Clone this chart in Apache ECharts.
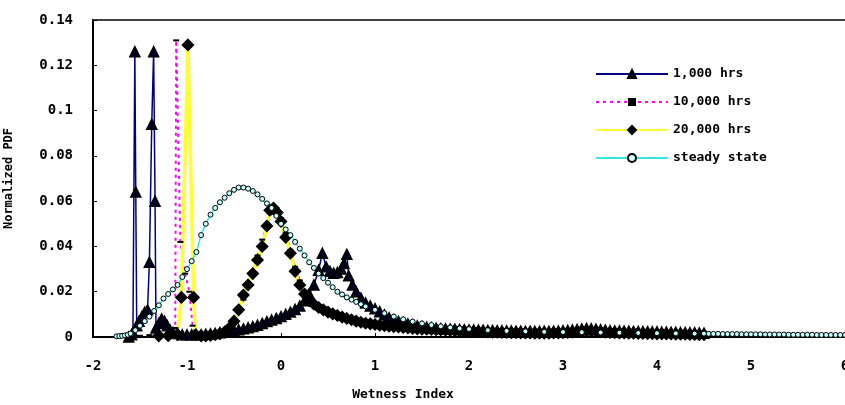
<!DOCTYPE html>
<html>
<head>
<meta charset="UTF-8">
<title>Normalized PDF</title>
<script src="https://cdn.jsdelivr.net/npm/echarts@6.0.0/dist/echarts.min.js"></script>
<style>
  html, body { margin: 0; padding: 0; background: #fff; }
</style>
</head>
<body>
<div id="main" style="width:845px;height:405px"></div>
<script>
// series names as in the legend
var seriesNames = ['1,000 hrs', '10,000 hrs', '20,000 hrs', 'steady state'];

// [wetness index, normalized pdf]
var hrs1000 = [
  [-1.62, 0.0000], [-1.59, 0.0010], [-1.575, 0.0020], [-1.555, 0.1260], [-1.545, 0.0640], [-1.535, 0.0050],
  [-1.51, 0.0070], [-1.48, 0.0090], [-1.45, 0.0110], [-1.42, 0.0120], [-1.40, 0.0330], [-1.375, 0.0940],
  [-1.355, 0.1260], [-1.34, 0.0600], [-1.33, 0.0040], [-1.30, 0.0060], [-1.27, 0.0080], [-1.24, 0.0070],
  [-1.21, 0.0050], [-1.18, 0.0030], [-1.15, 0.0020], [-1.10, 0.0015], [-1.05, 0.0010], [-1.00, 0.0010],
  [-0.95, 0.0010], [-0.90, 0.0010], [-0.85, 0.0010], [-0.80, 0.0012], [-0.75, 0.0014], [-0.70, 0.0016],
  [-0.65, 0.0019], [-0.60, 0.0022], [-0.55, 0.0025], [-0.50, 0.0028], [-0.45, 0.0032], [-0.40, 0.0036],
  [-0.35, 0.0041], [-0.30, 0.0046], [-0.25, 0.0052], [-0.20, 0.0060], [-0.15, 0.0068], [-0.10, 0.0075],
  [-0.05, 0.0082], [0.00, 0.0090], [0.05, 0.0100], [0.10, 0.0110], [0.15, 0.0122], [0.20, 0.0137],
  [0.25, 0.0160], [0.30, 0.0190], [0.35, 0.0230], [0.40, 0.0295], [0.44, 0.0370], [0.48, 0.0310],
  [0.52, 0.0290], [0.56, 0.0282], [0.60, 0.0285], [0.64, 0.0300], [0.67, 0.0325], [0.70, 0.0365],
  [0.72, 0.0270], [0.76, 0.0230], [0.80, 0.0200], [0.85, 0.0172], [0.90, 0.0150], [0.95, 0.0137],
  [1.00, 0.0125], [1.05, 0.0112], [1.10, 0.0098], [1.15, 0.0085], [1.20, 0.0076], [1.25, 0.0069],
  [1.30, 0.0063], [1.35, 0.0058], [1.40, 0.0053], [1.45, 0.0049], [1.50, 0.0046], [1.55, 0.0043],
  [1.60, 0.0041], [1.65, 0.0039], [1.70, 0.0037], [1.75, 0.0036], [1.80, 0.0035], [1.85, 0.0034],
  [1.90, 0.0033], [1.95, 0.0032], [2.00, 0.0031], [2.05, 0.0031], [2.10, 0.0030], [2.15, 0.0030],
  [2.20, 0.0029], [2.25, 0.0029], [2.30, 0.0028], [2.35, 0.0028], [2.40, 0.0027], [2.45, 0.0027],
  [2.50, 0.0026], [2.55, 0.0026], [2.60, 0.0025], [2.65, 0.0026], [2.70, 0.0025], [2.75, 0.0025],
  [2.80, 0.0026], [2.85, 0.0025], [2.90, 0.0026], [2.95, 0.0027], [3.00, 0.0028], [3.05, 0.0029],
  [3.10, 0.0031], [3.15, 0.0033], [3.20, 0.0036], [3.25, 0.0038], [3.30, 0.0037], [3.35, 0.0035],
  [3.40, 0.0032], [3.45, 0.0030], [3.50, 0.0028], [3.55, 0.0027], [3.60, 0.0027], [3.65, 0.0026],
  [3.70, 0.0026], [3.75, 0.0025], [3.80, 0.0025], [3.85, 0.0024], [3.90, 0.0024], [3.95, 0.0023],
  [4.00, 0.0023], [4.05, 0.0022], [4.10, 0.0022], [4.15, 0.0021], [4.20, 0.0021], [4.25, 0.0020],
  [4.30, 0.0020], [4.35, 0.0019], [4.40, 0.0019], [4.45, 0.0018], [4.50, 0.0017]
];

var hrs10000 = [
  [-1.50, 0.0005], [-1.40, 0.0008], [-1.30, 0.0010], [-1.20, 0.0012], [-1.14, 0.0020], [-1.125, 0.0040],
  [-1.115, 0.1310], [-1.07, 0.0420], [-1.02, 0.0280], [-0.975, 0.0200], [-0.94, 0.0050], [-0.90, 0.0010],
  [-0.80, 0.0006], [-0.70, 0.0012], [-0.60, 0.0028], [-0.55, 0.0045], [-0.50, 0.0075], [-0.45, 0.0115],
  [-0.40, 0.0165], [-0.35, 0.0225], [-0.30, 0.0290], [-0.25, 0.0360], [-0.20, 0.0430], [-0.15, 0.0495],
  [-0.10, 0.0545], [-0.05, 0.0560], [0.00, 0.0525], [0.05, 0.0460], [0.10, 0.0385], [0.15, 0.0310],
  [0.20, 0.0250], [0.25, 0.0205], [0.30, 0.0172], [0.40, 0.0140], [0.50, 0.0118], [0.60, 0.0100],
  [0.70, 0.0087], [0.80, 0.0076], [0.90, 0.0067], [1.00, 0.0060], [1.20, 0.0050], [1.40, 0.0042],
  [1.60, 0.0036], [1.80, 0.0031], [2.00, 0.0027], [2.50, 0.0021], [3.00, 0.0019], [3.30, 0.0024],
  [3.60, 0.0018], [4.00, 0.0015], [4.50, 0.0011]
];

var hrs20000 = [
  [-1.30, 0.0005], [-1.20, 0.0006], [-1.10, 0.0010], [-1.06, 0.0175], [-0.99, 0.1290], [-0.93, 0.0175],
  [-0.91, 0.0010], [-0.85, 0.0005], [-0.80, 0.0005], [-0.75, 0.0007], [-0.70, 0.0010], [-0.65, 0.0015],
  [-0.60, 0.0022], [-0.55, 0.0040], [-0.50, 0.0070], [-0.45, 0.0120], [-0.40, 0.0185], [-0.35, 0.0230],
  [-0.30, 0.0280], [-0.25, 0.0340], [-0.20, 0.0400], [-0.15, 0.0490], [-0.12, 0.0560], [-0.08, 0.0570],
  [-0.04, 0.0550], [0.00, 0.0510], [0.05, 0.0440], [0.10, 0.0370], [0.15, 0.0290], [0.20, 0.0230],
  [0.25, 0.0190], [0.30, 0.0160], [0.35, 0.0145], [0.40, 0.0130], [0.45, 0.0120], [0.50, 0.0110],
  [0.55, 0.0102], [0.60, 0.0095], [0.65, 0.0088], [0.70, 0.0082], [0.75, 0.0076], [0.80, 0.0070],
  [0.85, 0.0065], [0.90, 0.0061], [0.95, 0.0058], [1.00, 0.0055], [1.05, 0.0052], [1.10, 0.0050],
  [1.15, 0.0048], [1.20, 0.0046], [1.25, 0.0044], [1.30, 0.0042], [1.35, 0.0040], [1.40, 0.0038],
  [1.45, 0.0036], [1.50, 0.0035], [1.55, 0.0034], [1.60, 0.0033], [1.65, 0.0032], [1.70, 0.0031],
  [1.75, 0.0030], [1.80, 0.0029], [1.85, 0.0028], [1.90, 0.0027], [1.95, 0.0026], [2.00, 0.0025],
  [2.05, 0.0024], [2.10, 0.0023], [2.15, 0.0023], [2.20, 0.0022], [2.25, 0.0021], [2.30, 0.0021],
  [2.35, 0.0020], [2.40, 0.0020], [2.45, 0.0019], [2.50, 0.0019], [2.55, 0.0018], [2.60, 0.0018],
  [2.65, 0.0018], [2.70, 0.0017], [2.75, 0.0017], [2.80, 0.0017], [2.85, 0.0017], [2.90, 0.0018],
  [2.95, 0.0018], [3.00, 0.0019], [3.05, 0.0020], [3.10, 0.0021], [3.15, 0.0023], [3.20, 0.0025],
  [3.25, 0.0026], [3.30, 0.0026], [3.35, 0.0025], [3.40, 0.0023], [3.45, 0.0021], [3.50, 0.0020],
  [3.55, 0.0019], [3.60, 0.0018], [3.65, 0.0018], [3.70, 0.0017], [3.75, 0.0017], [3.80, 0.0016],
  [3.85, 0.0016], [3.90, 0.0015], [3.95, 0.0015], [4.00, 0.0014], [4.05, 0.0014], [4.10, 0.0013],
  [4.15, 0.0013], [4.20, 0.0012], [4.25, 0.0012], [4.30, 0.0012], [4.35, 0.0011], [4.40, 0.0011],
  [4.45, 0.0010], [4.50, 0.0010]
];

var steadyState = [
  [-1.75, 0.0003], [-1.72, 0.0004], [-1.69, 0.0005], [-1.66, 0.0007], [-1.63, 0.0010], [-1.60, 0.0015],
  [-1.55, 0.0030], [-1.50, 0.0050], [-1.45, 0.0070], [-1.40, 0.0090], [-1.35, 0.0115], [-1.30, 0.0140],
  [-1.25, 0.0170], [-1.20, 0.0190], [-1.15, 0.0210], [-1.10, 0.0230], [-1.05, 0.0265], [-1.00, 0.0300],
  [-0.95, 0.0335], [-0.90, 0.0375], [-0.85, 0.0450], [-0.80, 0.0500], [-0.75, 0.0540], [-0.70, 0.0570],
  [-0.65, 0.0595], [-0.60, 0.0615], [-0.55, 0.0635], [-0.50, 0.0650], [-0.45, 0.0660], [-0.40, 0.0660],
  [-0.35, 0.0655], [-0.30, 0.0645], [-0.25, 0.0630], [-0.20, 0.0610], [-0.15, 0.0590], [-0.10, 0.0570],
  [-0.05, 0.0535], [0.00, 0.0500], [0.05, 0.0475], [0.10, 0.0450], [0.15, 0.0420], [0.20, 0.0390],
  [0.25, 0.0360], [0.30, 0.0330], [0.35, 0.0305], [0.40, 0.0280], [0.45, 0.0260], [0.50, 0.0240],
  [0.55, 0.0220], [0.60, 0.0200], [0.65, 0.0188], [0.70, 0.0175], [0.75, 0.0165], [0.80, 0.0155],
  [0.85, 0.0145], [0.90, 0.0135], [1.00, 0.0120], [1.10, 0.0105], [1.20, 0.0090], [1.30, 0.0078],
  [1.40, 0.0068], [1.50, 0.0060], [1.60, 0.0053], [1.70, 0.0047], [1.80, 0.0042], [1.90, 0.0038],
  [2.00, 0.0035], [2.20, 0.0030], [2.40, 0.0027], [2.60, 0.0025], [2.80, 0.0023], [3.00, 0.0022],
  [3.20, 0.0021], [3.40, 0.0020], [3.60, 0.0019], [3.80, 0.0018], [4.00, 0.0017], [4.20, 0.0016],
  [4.40, 0.0015], [4.50, 0.0015], [4.55, 0.0014], [4.60, 0.0014], [4.65, 0.0014], [4.70, 0.0013],
  [4.75, 0.0013], [4.80, 0.0013], [4.85, 0.0013], [4.90, 0.0012], [4.95, 0.0012], [5.00, 0.0012],
  [5.05, 0.0012], [5.10, 0.0012], [5.15, 0.0011], [5.20, 0.0011], [5.25, 0.0011], [5.30, 0.0011],
  [5.35, 0.0011], [5.40, 0.0010], [5.45, 0.0010], [5.50, 0.0010], [5.55, 0.0010], [5.60, 0.0010],
  [5.65, 0.0010], [5.70, 0.0009], [5.75, 0.0009], [5.80, 0.0009], [5.85, 0.0009], [5.90, 0.0009],
  [5.95, 0.0009], [6.00, 0.0009]
];

var font = '"DejaVu Sans Mono", monospace';
var myChart = echarts.init(document.getElementById('main'));

var option = {
  animation: false,
  backgroundColor: '#fff',
  grid: { left: 93, right: 0, top: 20, bottom: 68, outerBoundsMode: 'none', containLabel: false },
  legend: {
    orient: 'vertical',
    left: 590,
    top: 61,
    itemWidth: 72,
    itemHeight: 10,
    itemGap: 12,
    data: seriesNames,
    textStyle: { fontFamily: font, fontSize: 13, fontWeight: 'bold', color: '#000', lineHeight: 16 }
  },
  xAxis: [{
    type: 'value',
    min: -2, max: 6, interval: 1,
    axisLine: { onZero: false, lineStyle: { color: '#000', width: 2 } },
    axisTick: { inside: true, length: 4, lineStyle: { color: '#000' } },
    axisLabel: { margin: 22, color: '#000', fontFamily: font, fontSize: 14, fontWeight: 'bold' },
    splitLine: { show: false }
  }, {
    // top frame of the plot area
    type: 'value', position: 'top',
    min: -2, max: 6,
    axisLine: { show: true, onZero: false, lineStyle: { color: '#000', width: 1.5 } },
    axisTick: { show: false }, axisLabel: { show: false }, splitLine: { show: false }
  }],
  yAxis: {
    type: 'value',
    min: 0, max: 0.14, interval: 0.02,
    name: 'Normalized PDF',
    nameLocation: 'middle',
    nameGap: 78,
    nameTextStyle: { fontFamily: font, fontSize: 12, fontWeight: 'bold', color: '#000' },
    axisLine: { show: true, onZero: false, lineStyle: { color: '#000', width: 2 } },
    axisTick: { show: true, inside: true, length: 4, lineStyle: { color: '#000' } },
    axisLabel: { margin: 20, color: '#000', fontFamily: font, fontSize: 14, fontWeight: 'bold' },
    splitLine: { show: false }
  },
  graphic: [{
    type: 'text',
    x: 403, y: 395,
    style: {
      text: 'Wetness Index',
      font: 'bold 13px ' + font,
      fill: '#000',
      align: 'center', verticalAlign: 'middle',
      textAlign: 'center', textVerticalAlign: 'middle'
    }
  }],
  series: [{
    name: seriesNames[0],
    type: 'line',
    data: hrs1000,
    showAllSymbol: true,
    symbol: 'triangle',
    symbolSize: 10,
    itemStyle: { color: '#000022', borderColor: '#000', borderWidth: 1.5 },
    lineStyle: { color: '#000080', width: 1.5 }
  }, {
    name: seriesNames[1],
    type: 'line',
    data: hrs10000,
    showAllSymbol: true,
    symbol: 'rect',
    symbolSize: [6, 2],
    itemStyle: { color: '#000' },
    lineStyle: { color: '#ff00ff', width: 2, type: [3, 4] }
  }, {
    name: seriesNames[2],
    type: 'line',
    data: hrs20000,
    showAllSymbol: true,
    symbol: 'diamond',
    symbolSize: 11,
    itemStyle: { color: '#000', borderColor: '#000', borderWidth: 1.5 },
    lineStyle: { color: '#ffff33', width: 3.5 }
  }, {
    name: seriesNames[3],
    type: 'line',
    data: steadyState,
    showAllSymbol: true,
    symbol: 'circle',
    symbolSize: 5,
    itemStyle: { color: '#c8ffff', borderColor: '#000', borderWidth: 1 },
    lineStyle: { color: '#33e6e6', width: 1.5 }
  }]
};

myChart.setOption(option);
</script>
</body>
</html>
